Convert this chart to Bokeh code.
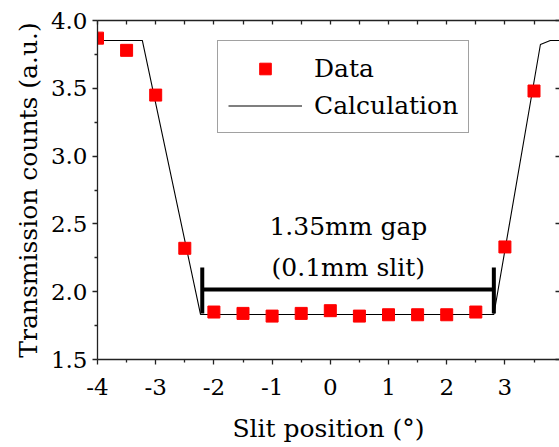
from bokeh.plotting import figure
from bokeh.models import (LinearAxis, FixedTicker, PrintfTickFormatter, Legend,
                          LegendItem, ColumnDataSource, CustomJSTickFormatter)
from bokeh.core.properties import value
from bokeh.embed import file_html
from bokeh.resources import INLINE

# ---- data ----
slit_pos = [-4, -3.5, -3, -2.5, -2, -1.5, -1, -0.5, 0, 0.5, 1, 1.5, 2, 2.5, 3, 3.5]
counts = [3.87, 3.78, 3.45, 2.32, 1.85, 1.84, 1.82, 1.84, 1.86, 1.82, 1.83, 1.83,
          1.83, 1.85, 2.33, 3.48]

calc_x = [-4.0, -3.23, -2.23, 2.81, 3.61, 3.78, 4.0]
calc_y = [3.853, 3.853, 1.832, 1.832, 3.823, 3.853, 3.853]

gap_left, gap_right = -2.2, 2.81
bracket_y = 2.016
bracket_top, bracket_bottom = 2.178, 1.84
gap_labels = ["1.35mm gap", "(0.1mm slit)"]

x_ticks = [-4, -3, -2, -1, 0, 1, 2, 3, 4]
x_minor = [-3.5, -2.5, -1.5, -0.5, 0.5, 1.5, 2.5, 3.5]
y_ticks = [1.5, 2.0, 2.5, 3.0, 3.5, 4.0]
y_minor = [1.75, 2.25, 2.75, 3.25, 3.75]
half_steps = [-4, -3.5, -3, -2.5, -2, -1.5, -1, -0.5, 0, 0.5, 1, 1.5, 2, 2.5, 3, 3.5, 4]

FONT = "DejaVu Serif"
AX = "#222222"

p = figure(width=559, height=447, x_range=(-4, 3.938), y_range=(1.5, 4.0),
           output_backend="svg", toolbar_location=None,
           min_border_left=97, min_border_right=0, min_border_top=20,
           min_border_bottom=88)
p.outline_line_color = None
p.xgrid.visible = False
p.ygrid.visible = False
p.background_fill_color = "white"

# bottom axis
xa = p.xaxis[0]
xa.ticker = FixedTicker(ticks=x_ticks, minor_ticks=x_minor)
xa.formatter = PrintfTickFormatter(format="%d")
xa.axis_label = "Slit position (°)"
# left axis
ya = p.yaxis[0]
ya.ticker = FixedTicker(ticks=y_ticks, minor_ticks=y_minor)
ya.formatter = PrintfTickFormatter(format="%.1f")
ya.axis_label = "Transmission counts (a.u.)"

for ax in (xa, ya):
    ax.axis_line_color = AX
    ax.axis_line_width = 1.3
    ax.major_tick_line_color = AX
    ax.minor_tick_line_color = AX
    ax.major_tick_line_width = 1.3
    ax.minor_tick_line_width = 1.3
    ax.major_tick_out = 5
    ax.major_tick_in = 0
    ax.minor_tick_out = 3
    ax.minor_tick_in = 0
    ax.major_label_text_font = FONT
    ax.major_label_text_font_size = "23px"
    ax.major_label_text_color = "black"
    ax.axis_label_text_font = FONT
    ax.axis_label_text_font_size = "25px"
    ax.axis_label_text_font_style = "normal"
    ax.axis_label_text_color = "black"
xa.major_label_standoff = 14
xa.axis_label_standoff = 16
ya.major_label_standoff = 5
ya.axis_label_standoff = 5

# top and right mirror axes (ticks inward, no labels)
top = LinearAxis(ticker=FixedTicker(ticks=half_steps, minor_ticks=[]))
right = LinearAxis(ticker=FixedTicker(ticks=y_ticks, minor_ticks=[]))
for ax in (top, right):
    ax.formatter = CustomJSTickFormatter(code="return ''")
    ax.major_label_text_font_size = "1px"
    ax.major_label_standoff = 0
    ax.major_tick_out = 0
    ax.major_tick_in = 4
    ax.minor_tick_out = 0
    ax.minor_tick_in = 0
    ax.major_tick_line_color = AX
    ax.major_tick_line_width = 1.3
    ax.axis_line_width = 1.3
top.axis_line_color = AX
right.axis_line_color = None
p.add_layout(top, "above")
p.add_layout(right, "right")

# calculation line
calc = p.line(calc_x, calc_y, line_color="black", line_width=1.1)
# data squares
src = ColumnDataSource(dict(x=slit_pos, y=counts))
data = p.scatter("x", "y", source=src, marker="square", size=12,
                 fill_color="#ff0000", line_color="#ff0000")

# gap bracket
p.segment(x0=[gap_left], y0=[bracket_y], x1=[gap_right], y1=[bracket_y],
          line_color="black", line_width=4)
p.segment(x0=[gap_left, gap_right], y0=[bracket_bottom, bracket_bottom],
          x1=[gap_left, gap_right], y1=[bracket_top, bracket_top],
          line_color="black", line_width=4)

label_x = 0.31
p.text(x=[label_x, label_x], y=[2.48, 2.18], text=gap_labels,
       text_font=value(FONT), text_font_size="25px", text_align="center",
       text_baseline="alphabetic", text_color="black")

legend = Legend(items=[LegendItem(label="Data", renderers=[data]),
                       LegendItem(label="Calculation", renderers=[calc])],
                location=(120, 226), margin=0, padding=10, spacing=3,
                glyph_width=74, glyph_height=29, label_height=34,
                label_standoff=12, label_text_font=FONT,
                label_text_font_size="25px", label_text_color="black",
                border_line_color="#444444", border_line_width=1.2,
                background_fill_color="white", background_fill_alpha=1.0)
p.add_layout(legend, "center")

open("out.html", "w").write(file_html(p, INLINE))
